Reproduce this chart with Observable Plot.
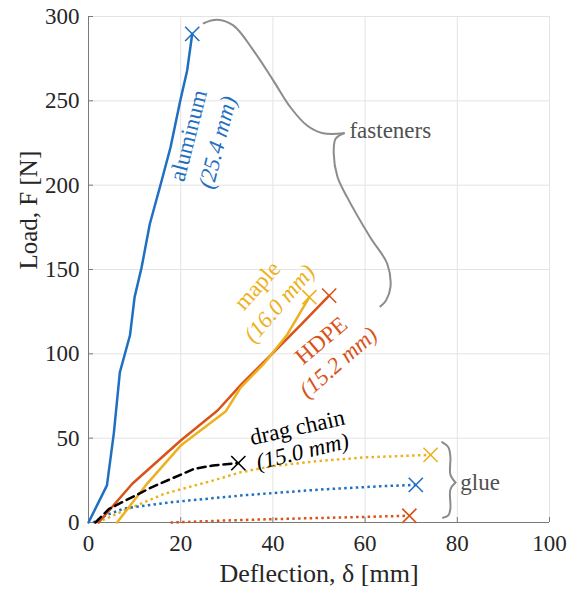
<!DOCTYPE html>
<html>
<head>
<meta charset="utf-8">
<script src="https://cdn.jsdelivr.net/npm/d3@7"></script>
<script src="https://cdn.jsdelivr.net/npm/@observablehq/plot@0.6"></script>
<style>
  html, body { margin: 0; padding: 0; background: #fff; }
  svg { display: block; }
  svg text { font-family: "Liberation Serif", "Times New Roman", serif; }
</style>
</head>
<body>
<div id="chart"></div>
<script>
// ---------- data ----------
const xTicks = [0, 20, 40, 60, 80, 100];
const yTicks = [0, 50, 100, 150, 200, 250, 300];

const aluminumX = [0, 4.0, 5.5, 6.8, 9.0, 10.0, 11.5, 13.3, 15.7, 17.8, 19.9, 21.4, 22.5];
const aluminumY = [0, 22, 53, 89, 111, 133.6, 151, 177, 201, 222.5, 250, 268, 289.7];

const hdpeX = [2.2, 9.5, 20, 28, 33, 40, 46, 52.2];
const hdpeY = [0, 23, 48.6, 66.4, 81.5, 100.5, 117, 134.5];

const mapleX = [6.2, 12.4, 20, 29.8, 33, 38, 43, 47.9];
const mapleY = [0, 22, 45.6, 66, 80, 94, 111, 133.6];

const dragX = [1.5, 4.4, 13.8, 22.9, 27, 32.5];
const dragY = [0, 8, 21, 31.8, 33.8, 35.2];

const glueMapleX = [1.9, 7.7, 16.4, 27.2, 33, 40, 50, 60, 74.2];
const glueMapleY = [0, 7, 17, 25, 29.8, 33.5, 36.5, 38.6, 40.1];

const glueAluminumX = [1, 4, 7.7, 17.8, 33, 50, 63.5, 71];
const glueAluminumY = [0, 4.5, 8.3, 12, 16, 19.5, 21.5, 22.3];

const glueHdpeX = [17.8, 30, 40, 55, 69.6];
const glueHdpeY = [0, 1.2, 2, 3, 4];

// brace annotations (data coordinates)
const fastBraceX = [25.0, 27.9, 31.4, 35.8, 40.1, 43.8, 47.4, 50.9, 55.4, 55.4, 53.6, 53.2, 54.0, 56.1, 61.1, 64.8, 65.5, 64.5, 63.3];
const fastBraceY = [296.0, 298.0, 294.7, 279.8, 262.0, 246.2, 235.4, 230.8, 230.8, 230.8, 227.5, 218.6, 205, 192.9, 169.1, 153.4, 139.5, 131.5, 128.1];
const fastBracePart = [0,0,0,0,0,0,0,0,0,1,1,1,1,1,1,1,1,1,1];

const glueBraceX = [76.7, 78.05, 78.5, 78.5, 79.6, 79.6, 78.5, 78.5, 78.05, 76.9];
const glueBraceY = [47.6, 44.6, 39.1, 28.5, 23.7, 23.7, 19.6, 8.3, 4.2, 2.8];
const glueBracePart = [0,0,0,0,0,1,1,1,1,1];

const BLUE = "#1f70c1", RED = "#D95319", YELLOW = "#EDB120", BLACK = "#000000";
const GRAY = "#8c8c8c", TEXTGRAY = "#505050";
const FONT = "'Liberation Serif', 'Times New Roman', serif";

function series(xs, ys, name) { return xs.map((x, i) => ({x, y: ys[i], name})); }

const solidSeries = [
  {data: series(aluminumX, aluminumY, "aluminum"), color: BLUE},
  {data: series(hdpeX, hdpeY, "HDPE"), color: RED},
  {data: series(mapleX, mapleY, "maple"), color: YELLOW}
];
const dottedSeries = [
  {data: series(glueMapleX, glueMapleY, "glue maple"), color: YELLOW},
  {data: series(glueAluminumX, glueAluminumY, "glue aluminum"), color: BLUE},
  {data: series(glueHdpeX, glueHdpeY, "glue HDPE"), color: RED}
];
const dragData = series(dragX, dragY, "drag chain");

const allSeries = [...solidSeries, {data: dragData, color: BLACK}, ...dottedSeries];
const ends = allSeries.map(s => ({...s.data[s.data.length - 1], color: s.color}));

const fastBrace = fastBraceX.map((x, i) => ({x, y: fastBraceY[i], part: fastBracePart[i]}));
const glueBrace = glueBraceX.map((x, i) => ({x, y: glueBraceY[i], part: glueBracePart[i]}));

const labels = [
  {x: 21.7, y: 229.5, text: "aluminum", color: BLUE, rotate: -75.5, italic: false},
  {x: 28.0, y: 225.3, text: "(25.4 mm)", color: BLUE, rotate: -75.5, italic: true},
  {x: 36.6, y: 140.5, text: "maple", color: YELLOW, rotate: -48, italic: false},
  {x: 41.4, y: 129.8, text: "(16.0 mm)", color: YELLOW, rotate: -49, italic: true},
  {x: 50.5, y: 107.9, text: "HDPE", color: RED, rotate: -40, italic: false},
  {x: 54.2, y: 94.9, text: "(15.2 mm)", color: RED, rotate: -41, italic: true},
  {x: 45.3, y: 56.3, text: "drag chain", color: BLACK, rotate: -12.5, italic: false},
  {x: 46.4, y: 42.1, text: "(15.0 mm)", color: BLACK, rotate: -13.5, italic: true}
];
const groupLabels = [
  {x: 56.6, y: 232.4, text: "fasteners"},
  {x: 80.65, y: 23.7, text: "glue"}
];

const marks = [
  Plot.gridX(xTicks, {stroke: "#e3e3e3", strokeOpacity: 1}),
  Plot.gridY(yTicks, {stroke: "#e3e3e3", strokeOpacity: 1}),
  Plot.ruleX([0], {stroke: "#7a7a7a", strokeWidth: 1}),
  Plot.ruleY([0], {stroke: "#7a7a7a", strokeWidth: 1}),
  Plot.axisX(xTicks, {tickSize: -5, tickPadding: 17, stroke: "#7a7a7a", fill: "#262626", fontSize: 23, fontFamily: FONT, label: null}),
  Plot.axisY(yTicks, {tickSize: -5, tickPadding: 14, stroke: "#7a7a7a", fill: "#262626", fontSize: 23, fontFamily: FONT, label: null}),
  Plot.text(["Deflection, δ [mm]"], {frameAnchor: "bottom", dy: 51, text: d => d, fontSize: 26, fontFamily: FONT, fill: "#262626", lineAnchor: "middle"}),
  Plot.text(["Load, F [N]"], {frameAnchor: "left", dx: -60, dy: 0, rotate: -90, text: d => d, fontSize: 25, fontFamily: FONT, fill: "#262626", lineAnchor: "middle"})
];

for (const s of dottedSeries) {
  marks.push(Plot.line(s.data, {x: "x", y: "y", stroke: s.color, strokeWidth: 2.5, strokeDasharray: "2.5,3.3", strokeLinecap: "butt"}));
}
for (const s of solidSeries) {
  marks.push(Plot.line(s.data, {x: "x", y: "y", stroke: s.color, strokeWidth: 2.5}));
}
marks.push(Plot.line(dragData, {x: "x", y: "y", stroke: BLACK, strokeWidth: 2.5, strokeDasharray: "8,5"}));
marks.push(Plot.dot(ends, {x: "x", y: "y", symbol: "times", r: 6.5, stroke: "color", strokeWidth: 1.6}));

marks.push(Plot.line(fastBrace, {x: "x", y: "y", z: "part", stroke: GRAY, strokeWidth: 2, curve: "catmull-rom"}));
marks.push(Plot.line(glueBrace, {x: "x", y: "y", z: "part", stroke: GRAY, strokeWidth: 2, curve: "catmull-rom"}));

for (const l of labels) {
  marks.push(Plot.text([l], {x: "x", y: "y", text: "text", fill: l.color, rotate: l.rotate, fontSize: 23, fontFamily: FONT, fontStyle: l.italic ? "italic" : "normal", lineAnchor: "middle", textAnchor: "middle"}));
}
marks.push(Plot.text(groupLabels, {x: "x", y: "y", text: "text", fill: TEXTGRAY, fontSize: 23, fontFamily: FONT, textAnchor: "start", lineAnchor: "middle"}));

const chart = Plot.plot({
  width: 576,
  height: 591,
  marginLeft: 88,
  marginRight: 27,
  marginTop: 16,
  marginBottom: 69,
  x: {domain: [0, 100]},
  y: {domain: [0, 300]},
  color: {type: "identity"},
  style: {fontFamily: FONT, background: "#fff", overflow: "visible"},
  marks
});
document.getElementById("chart").appendChild(chart);
</script>
</body>
</html>
